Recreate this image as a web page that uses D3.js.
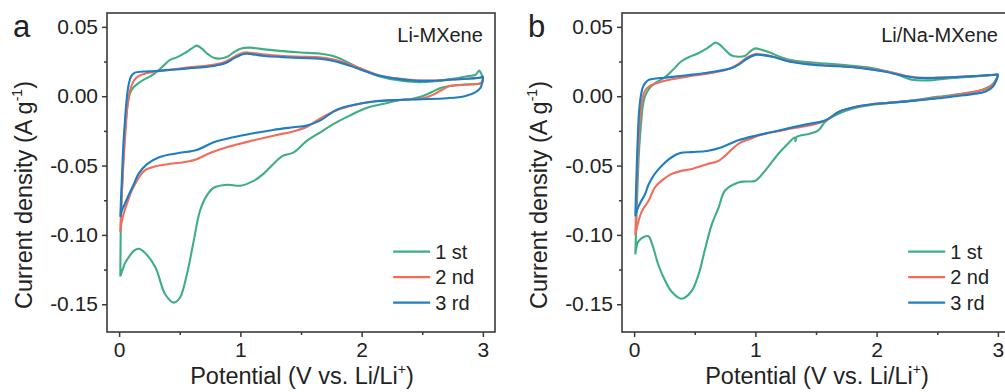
<!DOCTYPE html>
<html>
<head>
<meta charset="utf-8">
<script src="https://cdn.jsdelivr.net/npm/d3@7"></script>
<style>
  html, body { margin: 0; padding: 0; background: #fff; }
  svg { display: block; }
  text { font-family: "Liberation Sans", Arial, Helvetica, sans-serif; fill: #222; }
</style>
</head>
<body>
<svg id="chart" width="1005" height="392"></svg>
<script>
// ---- data: cyclic voltammograms, [potential (V), current density (A g^-1)] ----
// Each loop starts at the lower vertex (0.01 V), sweeps up to 3.0 V and back.

const liCycle1 = [
  [0.01,-0.130],[0.012,-0.105],[0.015,-0.090],[0.02,-0.075],[0.03,-0.055],[0.04,-0.035],
  [0.055,-0.018],[0.07,-0.006],[0.09,0.002],[0.12,0.0065],[0.16,0.0095],[0.2,0.0118],
  [0.26,0.0145],[0.31,0.0175],[0.36,0.0215],[0.42,0.0262],[0.48,0.0282],[0.54,0.031],
  [0.6,0.0345],[0.64,0.0365],[0.68,0.0345],[0.73,0.0305],[0.78,0.0277],[0.84,0.0272],
  [0.9,0.0288],[0.95,0.032],[1.0,0.0343],[1.08,0.0350],[1.2,0.0338],[1.35,0.0325],
  [1.5,0.0315],[1.65,0.0308],[1.75,0.0293],[1.85,0.026],[1.95,0.0215],[2.05,0.0175],
  [2.15,0.0143],[2.3,0.0115],[2.45,0.0102],[2.6,0.0108],[2.75,0.0125],[2.88,0.0145],
  [2.94,0.0155],[2.97,0.0185],[2.985,0.0165],[3.0,0.013],[2.99,0.0095],[2.95,0.0088],
  [2.85,0.0085],[2.75,0.0076],[2.65,0.006],[2.58,0.003],[2.5,0.000],[2.42,-0.0018],
  [2.3,-0.003],[2.18,-0.0055],[2.04,-0.0085],[1.9,-0.014],[1.77,-0.020],[1.66,-0.026],
  [1.55,-0.032],[1.44,-0.0405],[1.35,-0.043],[1.27,-0.049],[1.19,-0.056],[1.11,-0.061],
  [1.0,-0.0645],[0.89,-0.0638],[0.78,-0.066],[0.72,-0.072],[0.667,-0.0826],[0.61,-0.1067],
  [0.56,-0.128],[0.5,-0.1455],[0.45,-0.1488],[0.38,-0.1428],[0.3,-0.1235],[0.22,-0.1135],
  [0.165,-0.110],[0.12,-0.1115],[0.08,-0.116],[0.05,-0.120],[0.025,-0.126],[0.01,-0.130]
];

const liCycle2 = [
  [0.01,-0.098],[0.015,-0.085],[0.025,-0.065],[0.04,-0.042],[0.055,-0.022],[0.07,-0.006],
  [0.09,0.004],[0.12,0.011],[0.16,0.0145],[0.22,0.0165],[0.3,0.0178],[0.4,0.019],
  [0.5,0.020],[0.6,0.021],[0.7,0.0218],[0.8,0.023],[0.88,0.025],[0.95,0.0285],
  [1.03,0.0315],[1.1,0.0312],[1.2,0.030],[1.35,0.029],[1.5,0.0285],[1.65,0.028],
  [1.75,0.0268],[1.85,0.0245],[1.95,0.0215],[2.05,0.018],[2.15,0.015],[2.3,0.0128],
  [2.45,0.0115],[2.6,0.0113],[2.75,0.012],[2.9,0.0128],[2.98,0.0133],[3.0,0.0135],
  [2.995,0.0105],[2.97,0.009],[2.9,0.0085],[2.8,0.008],[2.73,0.0075],[2.66,0.0045],
  [2.6,0.0015],[2.53,-0.001],[2.45,-0.002],[2.3,-0.0027],[2.1,-0.0038],[1.95,-0.0062],
  [1.8,-0.010],[1.65,-0.0165],[1.55,-0.022],[1.45,-0.025],[1.3,-0.028],[1.1,-0.032],
  [0.9,-0.0365],[0.75,-0.041],[0.62,-0.046],[0.5,-0.048],[0.4,-0.049],[0.3,-0.0505],
  [0.22,-0.053],[0.16,-0.059],[0.11,-0.067],[0.07,-0.076],[0.04,-0.084],[0.02,-0.091],
  [0.01,-0.098]
];

const liCycle3 = [
  [0.01,-0.087],[0.015,-0.075],[0.025,-0.055],[0.035,-0.035],[0.05,-0.015],[0.065,0.000],
  [0.08,0.009],[0.10,0.0145],[0.13,0.0170],[0.2,0.0178],[0.3,0.0182],[0.4,0.0188],
  [0.5,0.0195],[0.6,0.0203],[0.7,0.021],[0.8,0.0222],[0.88,0.024],[0.95,0.0275],
  [1.03,0.0305],[1.1,0.0302],[1.2,0.029],[1.35,0.0282],[1.5,0.0275],[1.65,0.027],
  [1.75,0.0258],[1.85,0.0235],[1.95,0.0205],[2.05,0.0175],[2.15,0.0148],[2.3,0.0125],
  [2.45,0.0112],[2.6,0.0112],[2.75,0.0120],[2.9,0.0128],[2.98,0.0135],[3.0,0.014],
  [2.995,0.010],[2.98,0.006],[2.94,0.003],[2.85,0.000],[2.7,-0.0015],[2.5,-0.0022],
  [2.3,-0.0027],[2.1,-0.0038],[1.95,-0.0060],[1.8,-0.0095],[1.656,-0.0176],[1.546,-0.0212],
  [1.436,-0.0224],[1.27,-0.0243],[1.107,-0.0267],[0.94,-0.0296],[0.78,-0.0332],
  [0.64,-0.0387],[0.49,-0.041],[0.33,-0.044],[0.23,-0.049],[0.16,-0.056],[0.118,-0.064],
  [0.07,-0.073],[0.04,-0.079],[0.02,-0.083],[0.01,-0.087]
];

const naCycle1 = [
  [0.01,-0.114],[0.015,-0.100],[0.022,-0.080],[0.03,-0.060],[0.04,-0.040],[0.055,-0.022],
  [0.07,-0.008],[0.09,0.000],[0.12,0.005],[0.173,0.0095],[0.256,0.0138],[0.32,0.019],
  [0.39,0.0252],[0.47,0.0289],[0.53,0.031],[0.586,0.0337],[0.64,0.037],[0.668,0.0386],
  [0.7,0.0375],[0.75,0.0335],[0.8,0.0295],[0.86,0.0285],[0.916,0.0292],[0.96,0.0325],
  [1.0,0.0345],[1.05,0.0335],[1.11,0.0318],[1.27,0.0265],[1.45,0.0245],[1.686,0.0228],
  [1.96,0.0204],[2.08,0.018],[2.18,0.0155],[2.24,0.0133],[2.29,0.0119],[2.43,0.0114],
  [2.55,0.0125],[2.65,0.0133],[2.8,0.0142],[2.9,0.0148],[2.98,0.0155],[3.0,0.0155],
  [2.99,0.013],[2.95,0.0082],[2.85,0.0041],[2.68,0.0015],[2.5,-0.0005],[2.3,-0.003],
  [2.1,-0.0048],[1.96,-0.0062],[1.82,-0.0085],[1.69,-0.0125],[1.58,-0.018],[1.52,-0.0246],
  [1.45,-0.027],[1.34,-0.0294],[1.33,-0.0325],[1.325,-0.0298],[1.26,-0.035],[1.19,-0.0415],
  [1.08,-0.0537],[1.0,-0.061],[0.92,-0.0615],[0.86,-0.0622],[0.75,-0.068],[0.696,-0.0805],
  [0.64,-0.0926],[0.58,-0.112],[0.53,-0.129],[0.47,-0.141],[0.39,-0.146],[0.31,-0.141],
  [0.25,-0.132],[0.2,-0.1217],[0.15,-0.107],[0.118,-0.101],[0.08,-0.1015],[0.035,-0.1047],
  [0.01,-0.114]
];

const naCycle2 = [
  [0.01,-0.100],[0.015,-0.085],[0.022,-0.065],[0.03,-0.045],[0.042,-0.025],[0.055,-0.010],
  [0.07,-0.001],[0.09,0.004],[0.12,0.0068],[0.15,0.0083],[0.23,0.0106],[0.35,0.0128],
  [0.45,0.0143],[0.59,0.016],[0.7,0.0178],[0.8,0.0203],[0.87,0.0238],[0.93,0.0278],
  [1.0,0.0305],[1.06,0.030],[1.15,0.0285],[1.27,0.0255],[1.41,0.0236],[1.55,0.0225],
  [1.69,0.0218],[1.85,0.0208],[1.96,0.0195],[2.08,0.018],[2.18,0.016],[2.27,0.0142],
  [2.35,0.0134],[2.5,0.0134],[2.65,0.0138],[2.8,0.0145],[2.92,0.0152],[2.98,0.0155],
  [3.0,0.0155],[2.99,0.0125],[2.96,0.0085],[2.9,0.005],[2.79,0.003],[2.7,0.0015],
  [2.6,0.000],[2.5,-0.0012],[2.37,-0.0025],[2.24,-0.0037],[2.1,-0.0047],[1.96,-0.0058],
  [1.82,-0.0078],[1.69,-0.0112],[1.58,-0.0175],[1.45,-0.021],[1.3,-0.0233],[1.2,-0.025],
  [1.08,-0.027],[0.95,-0.031],[0.86,-0.0343],[0.7,-0.0464],[0.6,-0.049],[0.476,-0.0525],
  [0.38,-0.054],[0.31,-0.056],[0.24,-0.060],[0.17,-0.066],[0.118,-0.0756],[0.063,-0.083],
  [0.03,-0.092],[0.01,-0.100]
];

const naCycle3 = [
  [0.01,-0.0865],[0.015,-0.070],[0.022,-0.050],[0.03,-0.030],[0.04,-0.012],[0.055,0.000],
  [0.07,0.006],[0.09,0.0095],[0.12,0.0118],[0.18,0.0128],[0.25,0.0133],[0.35,0.0143],
  [0.45,0.0153],[0.59,0.0168],[0.7,0.0183],[0.8,0.0202],[0.87,0.0232],[0.93,0.027],
  [1.0,0.0298],[1.06,0.0296],[1.15,0.0283],[1.27,0.0252],[1.41,0.0233],[1.55,0.0222],
  [1.69,0.0216],[1.85,0.0205],[1.96,0.0192],[2.08,0.0175],[2.18,0.0155],[2.27,0.014],
  [2.35,0.0131],[2.5,0.0132],[2.65,0.0138],[2.8,0.0145],[2.92,0.0152],[2.98,0.0155],
  [3.0,0.0155],[2.99,0.012],[2.96,0.007],[2.9,0.0034],[2.79,0.0015],[2.65,0.000],
  [2.51,-0.0015],[2.37,-0.0027],[2.24,-0.0039],[2.1,-0.0048],[1.96,-0.0058],[1.82,-0.0078],
  [1.69,-0.0112],[1.58,-0.0173],[1.41,-0.0205],[1.27,-0.0232],[1.14,-0.0258],[1.0,-0.0285],
  [0.86,-0.0318],[0.71,-0.0372],[0.6,-0.0395],[0.476,-0.0403],[0.38,-0.041],[0.31,-0.044],
  [0.24,-0.049],[0.17,-0.056],[0.12,-0.0635],[0.09,-0.0707],[0.05,-0.077],[0.02,-0.083],
  [0.01,-0.0865]
];

const cycleLabels = ["1 st", "2 nd", "3 rd"];
const cycleColors = ["#3eae84", "#f26c5a", "#1f7ec2"];

const potentialTicks = [0, 1, 2, 3];
const potentialMinorTicks = [0.5, 1.5, 2.5];
const currentTicks = [0.05, 0, -0.05, -0.10, -0.15];
const currentTickLabels = ["0.05", "0.00", "-0.05", "-0.10", "-0.15"];
const currentMinorTicks = [0.025, -0.025, -0.075, -0.125];

const panels = [
  { letter: "a", name: "Li-MXene",    cycles: [liCycle1, liCycle2, liCycle3], x0: 107, x1: 495 },
  { letter: "b", name: "Li/Na-MXene", cycles: [naCycle1, naCycle2, naCycle3], x0: 622, x1: 1010 }
];

// ---- drawing ----
const svg = d3.select("#chart");
const plotTop = 13, plotBottom = 332;
const axisColor = "#3a3a3a";

panels.forEach(p => {
  const x = d3.scaleLinear().domain([-0.1, 3.1]).range([p.x0, p.x1]);
  const y = d3.scaleLinear().domain([-0.17, 0.06]).range([plotBottom, plotTop]);
  const g = svg.append("g");

  // frame
  g.append("rect")
    .attr("x", p.x0).attr("y", plotTop)
    .attr("width", p.x1 - p.x0).attr("height", plotBottom - plotTop)
    .attr("fill", "none").attr("stroke", axisColor).attr("stroke-width", 1.6);

  // axes
  g.append("g").attr("transform", `translate(0,${plotBottom})`)
    .call(d3.axisBottom(x).tickValues(potentialTicks).tickSize(5).tickPadding(5)
      .tickFormat(d3.format("d")));
  g.append("g").attr("transform", `translate(0,${plotBottom})`)
    .call(d3.axisBottom(x).tickValues(potentialMinorTicks).tickSize(3).tickFormat(""));
  g.append("g").attr("transform", `translate(${p.x0},0)`)
    .call(d3.axisLeft(y).tickValues(currentTicks).tickSize(5).tickPadding(4)
      .tickFormat((d, i) => currentTickLabels[i]));
  g.append("g").attr("transform", `translate(${p.x0},0)`)
    .call(d3.axisLeft(y).tickValues(currentMinorTicks).tickSize(3).tickFormat(""));

  g.selectAll(".domain").remove();
  g.selectAll(".tick line").attr("stroke", axisColor).attr("stroke-width", 1.5);
  g.selectAll(".tick text")
    .style("font-family", '"Liberation Sans", Arial, sans-serif')
    .style("font-size", "21px").attr("fill", "#222");

  // CV loops, first cycle underneath
  const line = d3.line()
    .x(d => x(d[0])).y(d => y(d[1]))
    .curve(d3.curveCatmullRom.alpha(0.5));
  p.cycles.forEach((data, i) => {
    g.append("path").datum(data)
      .attr("d", line)
      .attr("fill", "none")
      .attr("stroke", cycleColors[i])
      .attr("stroke-width", 2.1)
      .attr("stroke-linejoin", "round");
  });

  // legend
  const lgX = x(2.26), lgY = y(-0.112);
  cycleLabels.forEach((lab, i) => {
    const yy = lgY + i * 25.5;
    g.append("line")
      .attr("x1", lgX).attr("x2", lgX + 37)
      .attr("y1", yy).attr("y2", yy)
      .attr("stroke", cycleColors[i]).attr("stroke-width", 2.2);
    g.append("text").attr("x", lgX + 42).attr("y", yy + 7)
      .style("font-size", "20px").text(lab);
  });

  // sample name
  g.append("text")
    .attr("x", x(3.0)).attr("y", 42)
    .attr("text-anchor", "end")
    .style("font-size", "20px").text(p.name);

  // panel letter
  g.append("text")
    .attr("x", p.x0 - 94).attr("y", 37)
    .style("font-size", "31px").text(p.letter);

  // x title
  const xt = g.append("text")
    .attr("x", (p.x0 + p.x1) / 2 + 1)
    .attr("y", 384)
    .attr("text-anchor", "middle")
    .style("font-size", "23.5px");
  xt.append("tspan").text("Potential (V vs. Li/Li");
  xt.append("tspan").attr("dy", -10).style("font-size", "14px").text("+");
  xt.append("tspan").attr("dy", 10).text(")");

  // y title
  const yt = g.append("text")
    .attr("transform", `translate(${p.x0 - 75},195) rotate(-90)`)
    .attr("text-anchor", "middle")
    .style("font-size", "23.5px");
  yt.append("tspan").text("Current density (A g");
  yt.append("tspan").attr("dy", -10).style("font-size", "14px").text("-1");
  yt.append("tspan").attr("dy", 10).text(")");
});
</script>
</body>
</html>
